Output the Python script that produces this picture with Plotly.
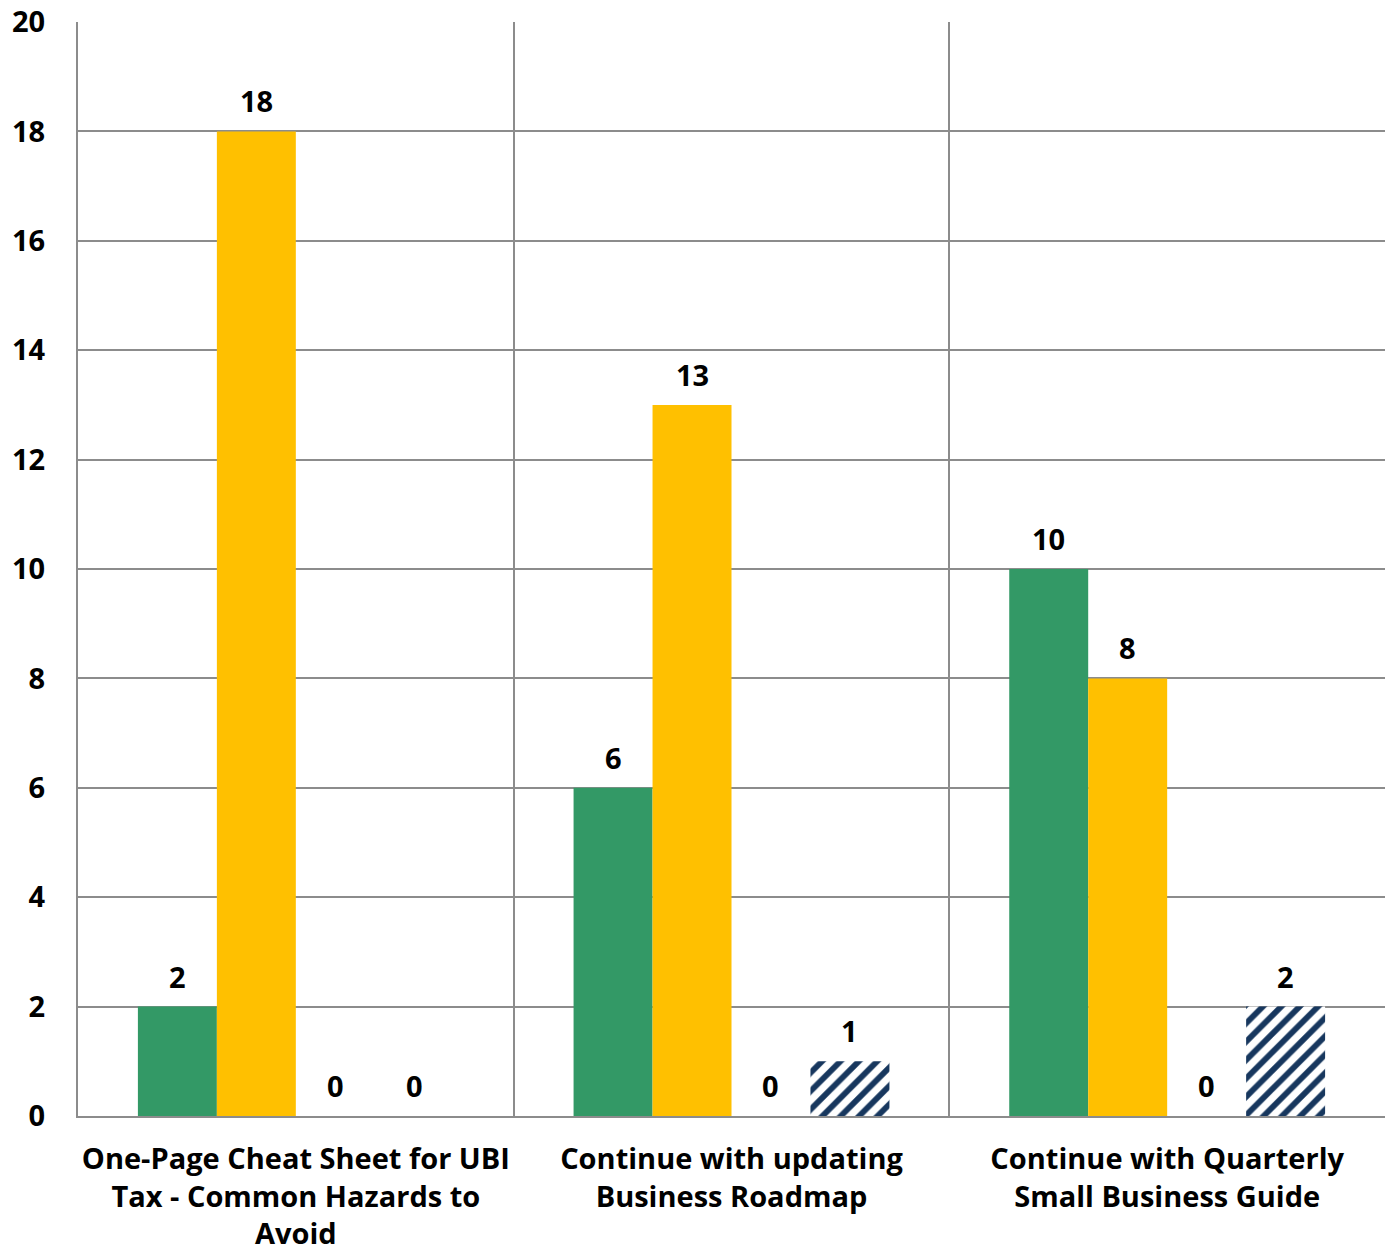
import plotly.graph_objects as go

categories = [
    "One-Page Cheat Sheet for UBI<br>Tax - Common Hazards to<br>Avoid",
    "Continue with updating<br>Business Roadmap",
    "Continue with Quarterly<br>Small Business Guide",
]
series_names = ["Series 1", "Series 2", "Series 3", "Series 4"]
series_1 = [2, 6, 10]
series_2 = [18, 13, 8]
series_3 = [0, 0, 0]
series_4 = [0, 1, 2]
y_ticks = [0, 2, 4, 6, 8, 10, 12, 14, 16, 18, 20]

FONT = "Open Sans"
green = "#339966"
yellow = "#FFC000"
navy = "#17375E"
grid = "#8C8C8C"

bargap = 0.275
n_series = 4
bw = (1 - bargap) / n_series

fig = go.Figure()
all_series = [series_1, series_2, series_3, series_4]
styles = [
    dict(color=green),
    dict(color=yellow),
    dict(color="#A5A5A5"),
    dict(color="white", pattern=dict(shape="/", fgcolor=navy, fgopacity=1, bgcolor="white", size=13, solidity=0.45)),
]
for name, vals, st in zip(series_names, all_series, styles):
    fig.add_trace(go.Bar(x=categories, y=vals, name=name, marker=dict(line=dict(width=0), **st)))

annotations = []
for j, vals in enumerate(all_series):
    for i, v in enumerate(vals):
        annotations.append(dict(
            x=i + (j - (n_series - 1) / 2) * bw, y=v, xref="x", yref="y",
            text=str(v), showarrow=False, yanchor="bottom", yshift=9,
            font=dict(family=FONT, size=29, color="black", weight="bold"),
        ))

fig.update_layout(
    width=1390, height=1260,
    margin=dict(l=78, r=5, t=22, b=144),
    plot_bgcolor="white", paper_bgcolor="white",
    barmode="group", bargap=bargap, bargroupgap=0,
    showlegend=False,
    annotations=annotations,
    font=dict(family=FONT, size=29, color="black", weight="bold"),
)
fig.update_xaxes(
    type="category", tickson="boundaries", showgrid=True, gridcolor=grid, gridwidth=2,
    ticks="", showline=True, linecolor=grid, linewidth=2, automargin=False,
    range=[-0.5, 2.5], ticklabelstandoff=16, tickangle=0,
    tickfont=dict(family=FONT, size=29, color="black", weight="bold"),
)
fig.update_yaxes(
    range=[0, 20], tickvals=y_ticks, showgrid=True, gridcolor=grid, gridwidth=2,
    showline=True, linecolor=grid, linewidth=2, ticks="", zeroline=False, automargin=False,
    ticklabelstandoff=25,
    tickfont=dict(family=FONT, size=29, color="black", weight="bold"),
)
fig.write_html("out.html")
